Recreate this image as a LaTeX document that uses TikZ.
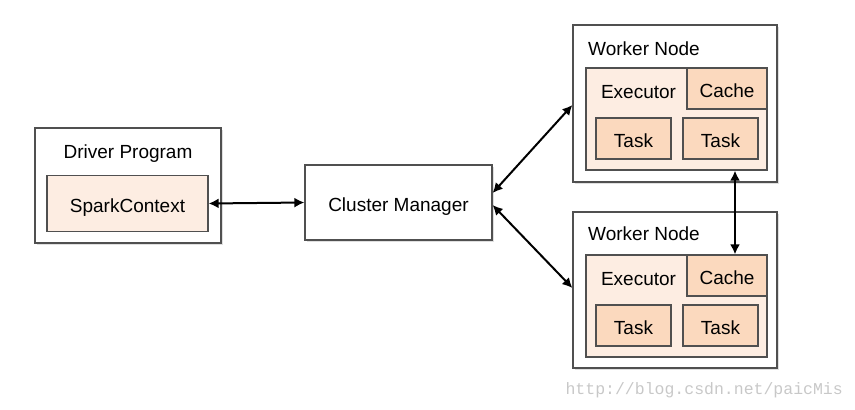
\documentclass[tikz,border=0pt]{standalone}
\usepackage{fontspec}
\setmainfont{Liberation Sans}
\newfontfamily\monofont{Liberation Mono}
\usetikzlibrary{arrows.meta,shadows}

\definecolor{execfill}{RGB}{253,237,226}
\definecolor{taskfill}{RGB}{251,217,190}
\definecolor{boxline}{RGB}{80,80,80}
\definecolor{markgray}{RGB}{200,200,200}

\tikzset{
  outerbox/.style={draw=boxline, line width=1.2pt, fill=white, inner sep=0pt,
    drop shadow={opacity=0.25, shadow xshift=1.5pt, shadow yshift=-1.5pt}},
  execbox/.style={draw=boxline, line width=1.2pt, fill=execfill, inner sep=0pt},
  taskbox/.style={draw=boxline, line width=1.2pt, fill=taskfill, inner sep=0pt},
  label/.style={font=\fontsize{19}{22}\selectfont, inner sep=0pt, text height=17pt, text depth=0pt},
  link/.style={line width=2pt, {Latex[length=10pt,width=10pt]}-{Latex[length=10pt,width=10pt]}}
}

\begin{document}
\begin{tikzpicture}[x=1pt, y=-1pt]
        \useasboundingbox (0,0) rectangle (855,410);

        % Driver side
        \node[outerbox, minimum width=186pt, minimum height=115pt] (driver) at (128,185.5) {};
        \node[label] (drivertitle) at (128,149.8) {Driver Program};
        \node[execbox, minimum width=161pt, minimum height=56pt, label] (spark) at (127.5,203.5) {SparkContext};

        % Cluster manager
        \node[outerbox, minimum width=187pt, minimum height=75pt, label] (cluster) at (398.5,202.5) {Cluster Manager};

        % Worker node A (top)
        \node[outerbox, minimum width=204pt, minimum height=157pt] (workerA) at (675,103.5) {};
        \node[label, anchor=west] (titleA) at (588,46.8) {Worker Node};
        \node[execbox, minimum width=181pt, minimum height=102pt] (execA) at (676.5,119) {};
        \node[label] (exectextA) at (638.5,89.8) {Executor};
        \node[taskbox, minimum width=80pt, minimum height=41pt, label] (cacheA) at (727,88.5) {Cache};
        \node[taskbox, minimum width=75pt, minimum height=41pt, label] (taskA1) at (633.5,138.5) {Task};
        \node[taskbox, minimum width=75pt, minimum height=41pt, label] (taskA2) at (720.5,138.5) {Task};

        % Worker node B (bottom)
        \node[outerbox, minimum width=204pt, minimum height=156pt] (workerB) at (675,290) {};
        \node[label, anchor=west] (titleB) at (588,232.3) {Worker Node};
        \node[execbox, minimum width=181pt, minimum height=102pt] (execB) at (676.5,306) {};
        \node[label] (exectextB) at (638.5,276.8) {Executor};
        \node[taskbox, minimum width=80pt, minimum height=41pt, label] (cacheB) at (727,275.5) {Cache};
        \node[taskbox, minimum width=75pt, minimum height=41pt, label] (taskB1) at (633.5,325.5) {Task};
        \node[taskbox, minimum width=75pt, minimum height=41pt, label] (taskB2) at (720.5,325.5) {Task};

        % Connections
        \draw[link] (spark.east) -- (cluster.west);
        \draw[link] ([yshift=9.5pt]cluster.east) -- ([yshift=-1.5pt]workerA.west);
        \draw[link] ([yshift=-2.5pt]cluster.east) -- ([yshift=2pt]workerB.west);
        \draw[link] ([xshift=58.5pt]execA.south) -- ([xshift=8pt]cacheB.north);

        % Watermark
        \node[font=\monofont\fontsize{16.5}{18}\selectfont, text=markgray, anchor=east, inner sep=0pt] (mark) at (843,390) {http://blog.csdn.net/paicMis};
    \end{tikzpicture}
\end{document}
